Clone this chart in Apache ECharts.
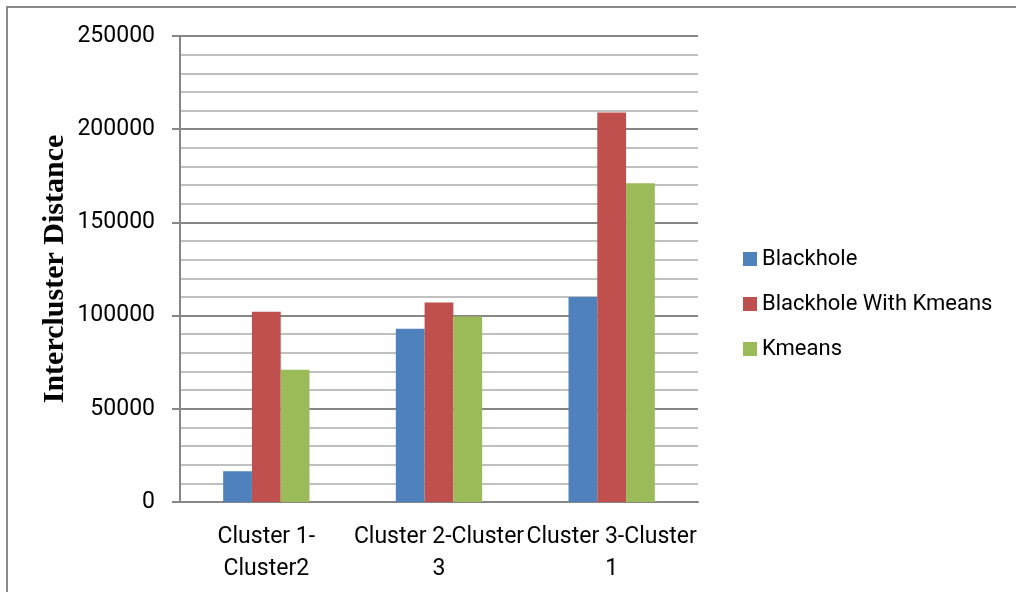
<!DOCTYPE html>
<html>
<head>
<meta charset="utf-8">
<script src="https://cdn.jsdelivr.net/npm/echarts@6/dist/echarts.min.js"></script>
<style>
html, body { margin: 0; padding: 0; background: #fff; }
#main { width: 1016px; height: 592px; }
</style>
</head>
<body>
<div id="main"></div>
<script>
// 类别
var categories = ['Cluster 1-\nCluster2', 'Cluster 2-Cluster\n3', 'Cluster 3-Cluster\n1'];
// 各系列数值
var blackhole = [16500, 93000, 110000];
var blackholeKmeans = [102000, 107000, 209000];
var kmeans = [71000, 99500, 171000];

var chart = echarts.init(document.getElementById('main'));

var font = 'Roboto';
var option = {
    backgroundColor: '#fff',
    animation: false,
    color: ['#4F81BD', '#C0504D', '#9BBB59'],
    graphic: [{
        type: 'rect',
        shape: { x: 7, y: 7, width: 1100, height: 700 },
        style: { fill: 'none', stroke: '#8a8a8a', lineWidth: 2 },
        silent: true
    }],
    grid: { left: 180, right: 318, top: 36, bottom: 90 },
    legend: {
        orient: 'vertical',
        left: 738,
        top: 243,
        icon: 'rect',
        itemWidth: 14,
        itemHeight: 14,
        itemGap: 23,
        textStyle: { fontFamily: font, fontSize: 22, color: '#000', lineHeight: 21 },
        data: ['Blackhole', 'Blackhole With Kmeans', 'Kmeans']
    },
    xAxis: {
        type: 'category',
        data: categories,
        axisLine: { lineStyle: { color: '#868686', width: 2 } },
        axisTick: { show: false },
        axisLabel: {
            fontFamily: font, fontSize: 23, color: '#000',
            lineHeight: 32, margin: 19, interval: 0
        }
    },
    yAxis: {
        type: 'value',
        min: 0,
        max: 250000,
        interval: 50000,
        name: 'Intercluster Distance',
        nameLocation: 'middle',
        nameRotate: 90,
        nameGap: 110,
        nameMoveOverlap: false,
        nameTextStyle: { fontFamily: 'Liberation Serif', fontWeight: 'bold', fontSize: 30, color: '#000' },
        axisLine: { show: true, lineStyle: { color: '#868686', width: 2 } },
        axisTick: { show: true, length: 8, lineStyle: { color: '#868686', width: 2 } },
        axisLabel: {
            fontFamily: font, fontSize: 23, color: '#000', margin: 25,
            formatter: function (v) { return String(v); }
        },
        splitLine: { lineStyle: { color: '#868686', width: 2 } },
        minorTick: { show: false, splitNumber: 5 },
        minorSplitLine: { show: true, lineStyle: { color: '#c0c0c0', width: 2 } }
    },
    series: [
        { name: 'Blackhole', type: 'bar', data: blackhole, barGap: '0%', barCategoryGap: '50%' },
        { name: 'Blackhole With Kmeans', type: 'bar', data: blackholeKmeans, barGap: '0%', barCategoryGap: '50%' },
        { name: 'Kmeans', type: 'bar', data: kmeans, barGap: '0%', barCategoryGap: '50%' }
    ]
};
chart.setOption(option);
</script>
</body>
</html>
